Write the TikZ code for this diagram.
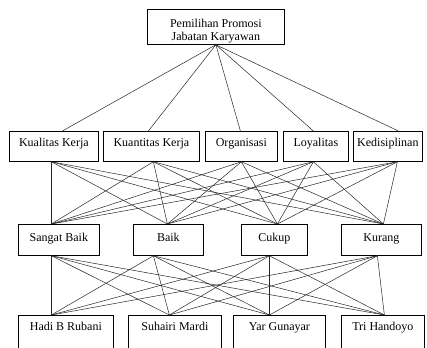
\documentclass[tikz,border=0pt]{standalone}
\usepackage{fontspec}
\setmainfont{Liberation Serif}
\begin{document}
\begin{tikzpicture}[x=1pt,y=-1pt,
  txtfont/.style={font=\fontsize{12}{12.5}\selectfont},
  box/.style={draw=black, line width=0.75pt, anchor=north west, inner xsep=0pt, inner ysep=0pt, txtfont},
  rowtwo/.style={box, text height=15pt, text depth=15pt},
  rowthree/.style={box, text height=17pt, text depth=14pt},
  rowfour/.style={box, text height=15pt, text depth=40pt},
  ln/.style={draw=black!85, line width=0.5pt}]
\useasboundingbox (0,0) rectangle (427,347);
\clip (0,0) rectangle (427,347);

% goal
\node[box, minimum width=137pt, minimum height=35pt] (top) at (147,9) {};
\node[txtfont, anchor=north, align=center, inner sep=0pt] (toptext) at ([yshift=-10pt]top.north) {Pemilihan Promosi\\Jabatan Karyawan};

% criteria
\node[rowtwo, minimum width=89pt] (k1) at (9,131) {Kualitas Kerja};
\node[rowtwo, minimum width=96pt] (k2) at (103,131) {Kuantitas Kerja};
\node[rowtwo, minimum width=72pt] (k3) at (205,131) {Organisasi};
\node[rowtwo, minimum width=65pt] (k4) at (283,131) {Loyalitas};
\node[rowtwo, minimum width=69pt] (k5) at (353,131) {Kedisiplinan};

% ratings
\node[rowthree, minimum width=81pt] (s1) at (18,224) {Sangat Baik};
\node[rowthree, minimum width=70pt] (s2) at (133,224) {Baik};
\node[rowthree, minimum width=66pt] (s3) at (241,224) {Cukup};
\node[rowthree, minimum width=80pt] (s4) at (341,224) {Kurang};

% alternatives
\node[rowfour, minimum width=95pt] (a1) at (18,315) {Hadi B Rubani};
\node[rowfour, minimum width=93pt] (a2) at (128,315) {Suhairi Mardi};
\node[rowfour, minimum width=92pt] (a3) at (233,315) {Yar Gunayar};
\node[rowfour, minimum width=83pt] (a4) at (341,315) {Tri Handoyo};

% connection points
\coordinate (topo) at (top.south);
\coordinate (k1i) at ([xshift=8.5pt]k1.north);
\coordinate (k2i) at ([xshift=-3pt]k2.north);
\coordinate (k3i) at ([xshift=-1pt]k3.north);
\coordinate (k4i) at ([xshift=-2.5pt]k4.north);
\coordinate (k5i) at ([xshift=10.5pt]k5.north);
\coordinate (k1o) at ([xshift=-2.5pt]k1.south);
\coordinate (k2o) at ([xshift=2pt]k2.south);
\coordinate (k3o) at ([xshift=0pt]k3.south);
\coordinate (k4o) at ([xshift=-2.5pt]k4.south);
\coordinate (k5o) at ([xshift=9.5pt]k5.south);
\coordinate (s1i) at ([xshift=-7.5pt]s1.north);
\coordinate (s2i) at ([xshift=-1pt]s2.north);
\coordinate (s3i) at ([xshift=3pt]s3.north);
\coordinate (s4i) at ([xshift=2pt]s4.north);
\coordinate (s1o) at ([xshift=-7.5pt]s1.south);
\coordinate (s2o) at ([xshift=-15pt]s2.south);
\coordinate (s3o) at ([xshift=-5pt]s3.south);
\coordinate (s4o) at ([xshift=-4pt]s4.south);
\coordinate (a1i) at ([xshift=-14.5pt]a1.north);
\coordinate (a2i) at ([xshift=-5.5pt]a2.north);
\coordinate (a3i) at ([xshift=-10pt]a3.north);
\coordinate (a4i) at ([xshift=1.5pt]a4.north);

% connectors
\foreach \i in {1,...,5} \draw[ln] (topo) -- (k\i i);
\foreach \i in {1,...,5} \foreach \j in {1,...,4} \draw[ln] (k\i o) -- (s\j i);
\foreach \j in {1,...,4} \foreach \m in {1,...,4} \draw[ln] (s\j o) -- (a\m i);
\end{tikzpicture}
\end{document}
